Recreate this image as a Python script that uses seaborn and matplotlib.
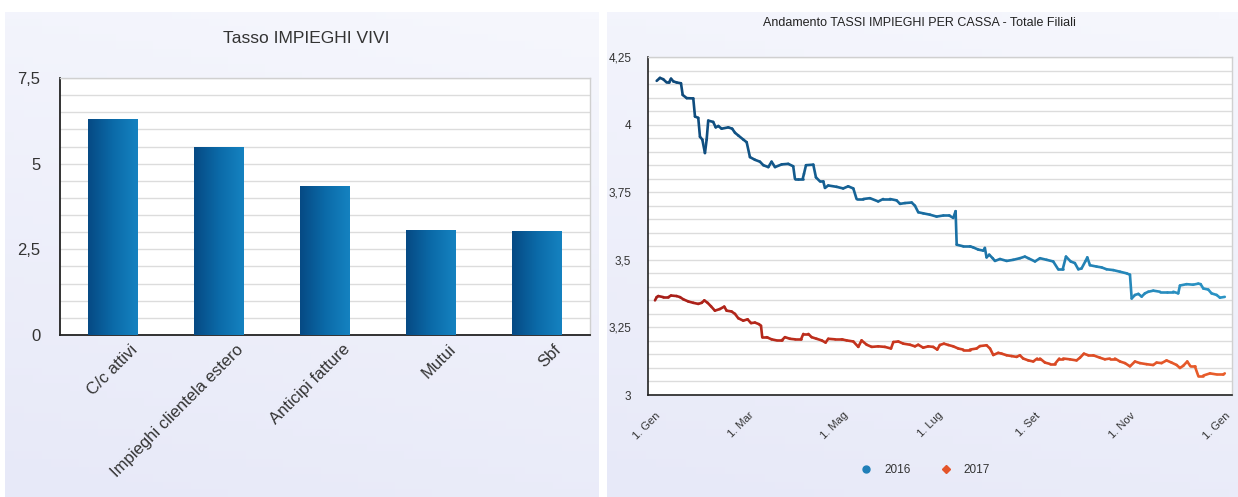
import numpy as np
import pandas as pd
import matplotlib
matplotlib.use("Agg")
import matplotlib.pyplot as plt
import matplotlib.dates as mdates
from matplotlib.ticker import MultipleLocator, FixedLocator, FuncFormatter
from matplotlib.collections import LineCollection
from matplotlib.colors import LinearSegmentedColormap
from matplotlib.lines import Line2D
import seaborn as sns

# --- dati grafico a barre (Tasso IMPIEGHI VIVI)
categorie = ["C/c attivi", "Impieghi clientela estero", "Anticipi fatture", "Mutui", "Sbf"]
tassi_vivi = [6.29, 5.49, 4.35, 3.07, 3.03]

# --- dati andamento tassi (giorni dal 1 gennaio, tasso)
giorni_2016 = [1.1, 3.2, 5.3, 7.5, 9.0, 10.3, 11.8, 13.9, 16.7, 17.8, 20.4, 24.6, 25.7, 27.8, 28.9,
               30.4, 32.1, 33.2, 34.2, 37.4, 39.0, 40.7, 42.8, 47.1, 49.6, 51.4, 53.5, 56.7, 58.9,
               61.0, 64.2, 67.4, 69.6, 72.8, 74.9, 77.1, 81.4, 85.6, 88.8, 89.9, 92.0, 94.9, 95.7,
               97.0, 101.7, 103.4, 106.0, 108.1, 109.2, 111.3, 116.7, 120.9, 124.1, 127.4, 129.5,
               133.8, 138.1, 143.4, 146.6, 150.9, 155.2, 157.4, 160.6, 164.9, 167.0, 169.1, 172.3,
               176.6, 180.9, 185.2, 189.0, 191.6, 193.1, 193.8, 198.0, 202.3, 204.4, 207.6, 210.9,
               211.9, 213.0, 214.7, 216.9, 218.4, 221.6, 225.9, 230.1, 234.4, 237.6, 239.8, 244.1,
               247.3, 251.6, 255.8, 259.0, 261.9, 264.0, 267.0, 269.7, 271.9, 274.0, 276.5, 277.7,
               279.4, 283.7, 286.9, 290.1, 294.4, 298.7, 303.0, 305.1, 306.2, 308.3, 310.5, 312.6,
               314.7, 316.9, 320.1, 324.4, 328.6, 332.9, 336.1, 337.2, 341.5, 345.7, 349.0, 350.5,
               352.2, 355.4, 357.5, 360.8, 362.9, 366.0]
tassi_2016 = [4.162, 4.173, 4.168, 4.156, 4.156, 4.170, 4.160, 4.156, 4.153, 4.110, 4.098, 4.097, 4.030,
              4.025, 3.955, 3.945, 3.895, 3.945, 4.015, 4.010, 3.990, 3.995, 3.985, 3.990, 3.985, 3.970,
              3.960, 3.945, 3.935, 3.880, 3.870, 3.863, 3.850, 3.843, 3.863, 3.843, 3.853, 3.855, 3.846,
              3.800, 3.800, 3.800, 3.818, 3.850, 3.852, 3.805, 3.790, 3.790, 3.766, 3.775, 3.770, 3.764,
              3.772, 3.764, 3.725, 3.725, 3.728, 3.716, 3.725, 3.725, 3.720, 3.707, 3.710, 3.712, 3.700,
              3.676, 3.672, 3.667, 3.660, 3.664, 3.664, 3.655, 3.680, 3.556, 3.550, 3.550, 3.546, 3.538,
              3.534, 3.544, 3.509, 3.519, 3.506, 3.496, 3.503, 3.496, 3.500, 3.506, 3.512, 3.506, 3.494,
              3.506, 3.500, 3.494, 3.465, 3.465, 3.512, 3.494, 3.488, 3.465, 3.468, 3.495, 3.509, 3.480,
              3.475, 3.472, 3.465, 3.462, 3.456, 3.450, 3.445, 3.357, 3.370, 3.374, 3.364, 3.376, 3.382,
              3.386, 3.382, 3.382, 3.382, 3.376, 3.405, 3.410, 3.408, 3.412, 3.410, 3.394, 3.390, 3.376,
              3.370, 3.360, 3.363]

giorni_2017 = [0.0, 1.1, 2.1, 5.4, 8.6, 10.3, 13.9, 16.1, 18.2, 21.4, 24.6, 27.8, 30.0, 31.7, 33.8, 36.0,
               38.5, 41.7, 44.5, 46.0, 49.2, 51.4, 53.5, 56.7, 59.5, 61.7, 64.2, 66.8, 68.1, 68.9, 71.7,
               74.9, 78.1, 81.4, 83.5, 86.7, 89.9, 93.8, 95.3, 98.5, 100.6, 103.8, 107.1, 109.6, 111.3,
               115.6, 119.9, 123.1, 127.4, 130.6, 132.7, 136.0, 139.2, 143.4, 147.7, 151.6, 153.1, 156.3,
               159.5, 163.8, 167.0, 169.1, 172.3, 175.5, 178.7, 181.3, 183.0, 185.6, 188.4, 191.6, 194.8,
               198.0, 202.3, 206.6, 208.7, 213.0, 215.2, 217.3, 220.5, 222.7, 225.9, 229.1, 232.3, 234.4,
               236.5, 239.8, 243.0, 245.5, 247.3, 250.5, 253.7, 256.9, 259.7, 262.2, 266.5, 270.8, 273.0,
               275.5, 278.3, 281.5, 285.8, 289.0, 292.2, 295.4, 298.7, 301.9, 305.1, 308.3, 311.5, 315.8,
               320.0, 322.2, 325.4, 328.6, 331.8, 335.1, 337.2, 339.3, 341.9, 344.0, 346.8, 348.9, 352.2,
               356.5, 360.8, 365.0, 366.0]
tassi_2017 = [3.350, 3.362, 3.366, 3.362, 3.362, 3.368, 3.366, 3.362, 3.354, 3.346, 3.341, 3.337, 3.341,
              3.350, 3.341, 3.328, 3.312, 3.318, 3.327, 3.312, 3.309, 3.300, 3.284, 3.275, 3.280, 3.266,
              3.268, 3.262, 3.256, 3.214, 3.214, 3.206, 3.202, 3.202, 3.214, 3.208, 3.206, 3.206, 3.226,
              3.226, 3.214, 3.208, 3.202, 3.194, 3.208, 3.206, 3.206, 3.202, 3.198, 3.178, 3.202, 3.186,
              3.178, 3.180, 3.178, 3.172, 3.196, 3.198, 3.190, 3.186, 3.180, 3.186, 3.175, 3.180, 3.178,
              3.168, 3.185, 3.190, 3.185, 3.180, 3.172, 3.168, 3.168, 3.172, 3.181, 3.184, 3.172, 3.148,
              3.156, 3.153, 3.147, 3.144, 3.141, 3.147, 3.135, 3.128, 3.124, 3.135, 3.135, 3.120, 3.115,
              3.115, 3.135, 3.135, 3.132, 3.128, 3.138, 3.153, 3.147, 3.147, 3.138, 3.132, 3.135, 3.135,
              3.124, 3.118, 3.106, 3.124, 3.118, 3.114, 3.111, 3.120, 3.118, 3.128, 3.120, 3.111, 3.100,
              3.108, 3.124, 3.106, 3.106, 3.072, 3.072, 3.080, 3.076, 3.076, 3.080]

anni = ["2016", "2017"]
mesi = ["Gen", "Feb", "Mar", "Apr", "Mag", "Giu", "Lug", "Ago", "Set", "Ott", "Nov", "Dic"]

sns.set_style("white")
plt.rcParams["font.family"] = ["Liberation Sans", "DejaVu Sans"]
testo = "#333333"

fig = plt.figure(figsize=(12.38, 4.97), dpi=100)
fig.patch.set_facecolor("white")

# sfondi dei due pannelli (sfumatura lavanda)
sfondo = LinearSegmentedColormap.from_list("sfondo", ["#f6f7fd", "#e7e9f8"])
grad = np.linspace(0, 1, 64).reshape(-1, 1) * 0.8 + np.linspace(0.2, 0, 64).reshape(1, -1)
for box in ([0.004, 0.0, 0.479, 0.976], [0.490, 0.0, 0.510, 0.976]):
    bg = fig.add_axes(box, zorder=-10)
    bg.imshow(grad, cmap=sfondo, aspect="auto", extent=[0, 1, 0, 1], vmin=0, vmax=1)
    bg.axis("off")

# ---------------- barre
ax1 = fig.add_axes([0.0485, 0.326, 0.428, 0.517])
df_bar = pd.DataFrame({"categoria": categorie, "tasso": tassi_vivi})
sns.barplot(data=df_bar, x="categoria", y="tasso", color="#0b5f9c", width=0.47, ax=ax1, zorder=3)
ax1.set_facecolor("white")

barre_cmap = LinearSegmentedColormap.from_list("barre", ["#064a84", "#0b6aa8", "#1582c0"])
for p in ax1.patches:
    x0, y0, w, h = p.get_x(), p.get_y(), p.get_width(), p.get_height()
    im = ax1.imshow(np.linspace(0, 1, 64).reshape(1, -1), cmap=barre_cmap, aspect="auto",
                    extent=[x0, x0 + w, y0, y0 + h], zorder=3)
    im.set_clip_path(p)
    p.set_facecolor("none")
    p.set_edgecolor("none")

ax1.set_xlim(-0.5, 4.5)
ax1.set_ylim(0, 7.5)
ax1.set_xlabel("")
ax1.set_ylabel("")
ax1.yaxis.set_major_locator(MultipleLocator(2.5))
ax1.yaxis.set_minor_locator(MultipleLocator(0.5))
ax1.yaxis.set_major_formatter(FuncFormatter(lambda v, pos: f"{v:g}".replace(".", ",")))
ax1.grid(True, which="both", axis="y", color="#dcdcdc", lw=1.0, zorder=0)
ax1.set_axisbelow(True)
# tacche ai confini delle categorie, etichette (minor) leggermente a destra del centro
ax1.xaxis.set_major_locator(FixedLocator(np.arange(-0.5, 5, 1)))
ax1.xaxis.set_minor_locator(FixedLocator(np.arange(0, 5, 1) + 0.16))
ax1.set_xticklabels([], minor=False)
ax1.set_xticklabels(categorie, minor=True, rotation=45, ha="right", rotation_mode="anchor",
                    fontsize=12, color=testo)
ax1.tick_params(axis="x", which="major", length=13, width=1.3, color="#222222", direction="out")
ax1.tick_params(axis="x", which="minor", length=0, pad=5)
ax1.tick_params(axis="y", which="major", length=11, width=1.3, color="#222222", direction="out",
                labelsize=12, labelcolor=testo, pad=3)
ax1.tick_params(axis="y", which="minor", length=0)
for s in ["left", "bottom"]:
    ax1.spines[s].set_color("#222222")
    ax1.spines[s].set_linewidth(1.3)
for s in ["top", "right"]:
    ax1.spines[s].set_color("#d0d0d0")
    ax1.spines[s].set_linewidth(1.0)
fig.text(0.247, 0.922, "Tasso IMPIEGHI VIVI", ha="center", va="center", fontsize=12.5, color=testo)

# ---------------- linee
ax2 = fig.add_axes([0.5234, 0.2052, 0.4717, 0.680])
ax2.set_facecolor("white")
inizio = pd.Timestamp("2016-01-01")
df_lin = pd.concat([
    pd.DataFrame({"data": inizio + pd.to_timedelta(giorni_2016, unit="D"), "tasso": tassi_2016, "anno": "2016"}),
    pd.DataFrame({"data": inizio + pd.to_timedelta(giorni_2017, unit="D"), "tasso": tassi_2017, "anno": "2017"}),
])
palette = {"2016": "#1b6fa6", "2017": "#d1401f"}
sns.lineplot(data=df_lin, x="data", y="tasso", hue="anno", hue_order=anni, palette=palette,
             estimator=None, sort=False, lw=1.8, legend=False, ax=ax2)

x_lo = mdates.date2num(inizio - pd.Timedelta(days=4.5))
x_hi = mdates.date2num(inizio + pd.Timedelta(days=370.6))
sfumature = {
    "2016": LinearSegmentedColormap.from_list("b", ["#0d4677", "#1a6fa3", "#2c95c6"]),
    "2017": LinearSegmentedColormap.from_list("r", ["#a51d18", "#cf3b1f", "#ea5f2c"]),
}
for linea, anno in zip(list(ax2.lines), anni):
    xy = linea.get_xydata()
    seg = np.stack([xy[:-1], xy[1:]], axis=1)
    lc = LineCollection(seg, cmap=sfumature[anno], norm=plt.Normalize(x_lo, x_hi),
                        linewidth=1.9, capstyle="round", joinstyle="round", zorder=3)
    lc.set_array((xy[:-1, 0] + xy[1:, 0]) / 2)
    ax2.add_collection(lc)
    linea.set_visible(False)

ax2.set_xlim(x_lo, x_hi)
ax2.set_ylim(3, 4.25)
ax2.set_xlabel("")
ax2.set_ylabel("")
ax2.yaxis.set_major_locator(MultipleLocator(0.25))
ax2.yaxis.set_minor_locator(MultipleLocator(0.05))
ax2.yaxis.set_major_formatter(FuncFormatter(lambda v, pos: f"{v:g}".replace(".", ",")))
ax2.grid(True, which="both", axis="y", color="#dcdcdc", lw=1.0, zorder=0)
ax2.set_axisbelow(True)
ax2.xaxis.set_major_locator(mdates.MonthLocator(bymonth=(1, 3, 5, 7, 9, 11)))
ax2.xaxis.set_major_formatter(FuncFormatter(lambda v, pos: "1. " + mesi[mdates.num2date(v).month - 1]))
plt.setp(ax2.get_xticklabels(), rotation=45, ha="right", rotation_mode="anchor")
ax2.tick_params(axis="x", length=8, width=1.2, color="#222222", direction="out",
                labelsize=8, labelcolor=testo, pad=3)
ax2.tick_params(axis="y", which="major", length=9, width=1.2, color="#222222", direction="out",
                labelsize=8.5, labelcolor=testo, pad=3)
ax2.tick_params(axis="y", which="minor", length=0)
for s in ["left", "bottom"]:
    ax2.spines[s].set_color("#222222")
    ax2.spines[s].set_linewidth(1.2)
for s in ["top", "right"]:
    ax2.spines[s].set_color("#d0d0d0")
    ax2.spines[s].set_linewidth(1.0)
fig.text(0.743, 0.953, "Andamento TASSI IMPIEGHI PER CASSA - Totale Filiali", ha="center",
         va="center", fontsize=9, color="#222222")

maniglie = [Line2D([], [], ls="none", marker="o", markersize=5, color="#1f7fb8"),
            Line2D([], [], ls="none", marker="D", markersize=4.5, color="#e4542a")]
fig.legend(maniglie, anni, loc="center", bbox_to_anchor=(0.745, 0.055), ncol=2, frameon=False,
           fontsize=8.5, handletextpad=0.5, columnspacing=2.0, labelcolor=testo)

fig.savefig("out.png", dpi=100, facecolor=fig.get_facecolor())
